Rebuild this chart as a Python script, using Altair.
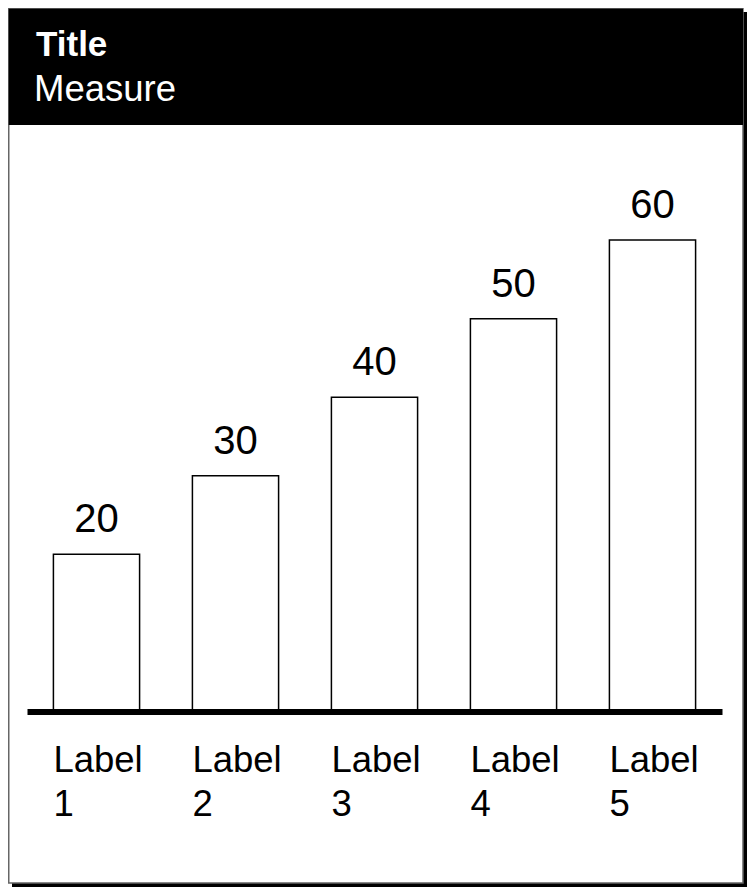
import altair as alt
import pandas as pd

# ---- data ----
categories = ["Label 1", "Label 2", "Label 3", "Label 4", "Label 5"]
values = [20, 30, 40, 50, 60]
axis_labels = ["Label\n1", "Label\n2", "Label\n3", "Label\n4", "Label\n5"]
title_text = "Title"
subtitle_text = "Measure"

FONT = "Liberation Sans"

df = pd.DataFrame({"category": categories, "value": values, "label": axis_labels})
one = pd.DataFrame({"k": [0]})

W, H = 695, 550

x_axis = alt.Axis(title=None, labels=False, ticks=False, tickSize=0, domain=True,
                  domainColor="black", domainWidth=6, zindex=1, grid=False)
x_scale = alt.Scale(paddingInner=0.38, paddingOuter=0.19)
x_enc = alt.X("category:N", sort=categories, scale=x_scale, axis=x_axis)
y_enc = alt.Y("value:Q", scale=alt.Scale(domain=[0, 70], nice=False, zero=True), axis=None)

shadow = alt.Chart(one).mark_rect(fill="black").encode(
    x=alt.value(-15), x2=alt.value(720), y=alt.value(-149.5), y2=alt.value(725.5)
)
box = alt.Chart(one).mark_rect(fill="white", stroke="#666666", strokeWidth=1.5).encode(
    x=alt.value(-18.25), x2=alt.value(716), y=alt.value(-152.75), y2=alt.value(721.5)
)
header = alt.Chart(one).mark_rect(fill="black").encode(
    x=alt.value(-18.25), x2=alt.value(716), y=alt.value(-152.75), y2=alt.value(-36.5)
)
t1 = alt.Chart(one).mark_text(
    text=title_text, font=FONT, fontSize=35, fontWeight="bold", color="white",
    align="left", baseline="alphabetic"
).encode(x=alt.value(9), y=alt.value(-105.5))
t2 = alt.Chart(one).mark_text(
    text=subtitle_text, font=FONT, fontSize=36.5, color="white",
    align="left", baseline="alphabetic"
).encode(x=alt.value(7), y=alt.value(-60.5))

bars = alt.Chart(df).mark_bar(fill="white", stroke="black", strokeWidth=1.5).encode(
    x=x_enc, y=y_enc
)
vals = alt.Chart(df).mark_text(
    font=FONT, fontSize=40, color="black", baseline="alphabetic", dy=-22
).encode(x=x_enc, y=y_enc, text="value:Q")
labs = alt.Chart(df).mark_text(
    font=FONT, fontSize=36.5, color="black", align="left", baseline="alphabetic",
    lineBreak="\n", lineHeight=44, dx=0
).encode(
    x=alt.X("category:N", sort=categories, bandPosition=0, scale=x_scale, axis=x_axis),
    y=alt.value(610),
    text="label:N",
)

chart = alt.layer(shadow, box, header, t1, t2, bars, vals, labs).properties(
    width=W,
    height=H,
    padding={"left": 19, "top": 153.5, "right": 25, "bottom": 176.5},
    autosize=alt.AutoSizeParams(type="none"),
    background="white",
).configure_view(strokeWidth=0)

chart.save("out.html", embed_options={"renderer": "svg", "actions": False})
